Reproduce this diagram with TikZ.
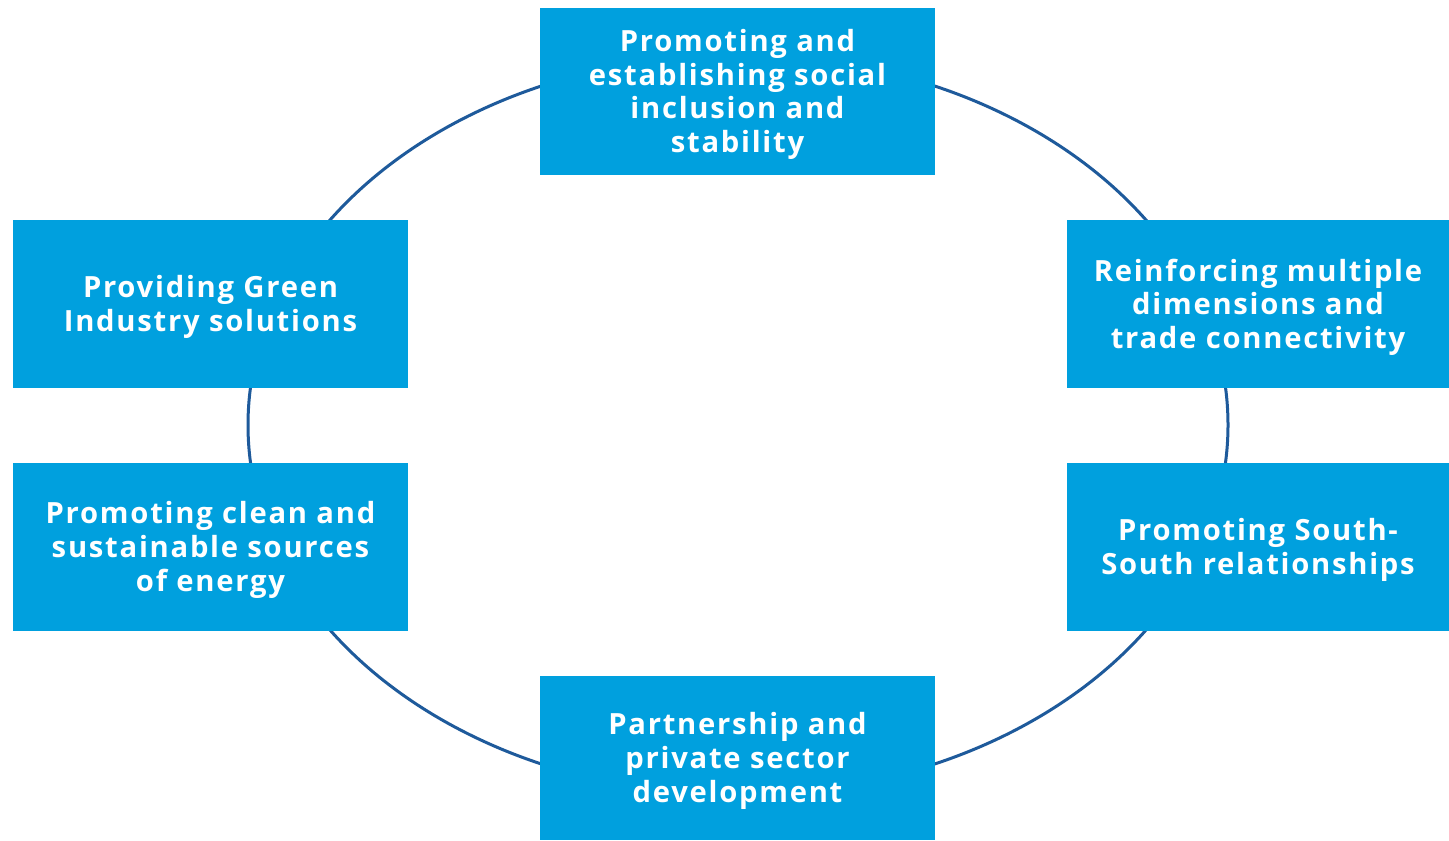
\documentclass[tikz,border=0pt]{standalone}
\usepackage{fontspec}
\setmainfont{Open Sans}[LetterSpace=6]
\definecolor{boxblue}{RGB}{0,160,222}
\definecolor{ringblue}{RGB}{30,90,155}
\begin{document}
\begin{tikzpicture}[x=0.5pt,y=-0.5pt,
  pbox/.style={fill=boxblue,draw=none,inner sep=0pt,text=white,
    font=\fontsize{14.6}{16.8}\selectfont\bfseries,align=center},
  ptext/.style={inner sep=0pt,text=white,yshift=-1.5pt,
    font=\fontsize{14.6}{16.8}\selectfont\bfseries,align=center},
  ring/.style={draw=ringblue,line width=1.5pt}]
\useasboundingbox (0,0) rectangle (1449,840);
\fill[white] (0,0) rectangle (1449,840);
\draw[ring] (738,425) ellipse [x radius=490, y radius=370];
\node[pbox,minimum width=197.5pt,minimum height=83.5pt] (top) at (737.5,91.5) {};
\node[ptext] (toptext) at (top.center) {Promoting and\\establishing social\\inclusion and\\stability};
\node[pbox,minimum width=197.5pt,minimum height=84pt] (lu) at (210.5,304) {};
\node[ptext] (lutext) at (lu.center) {Providing Green\\Industry solutions};
\node[pbox,minimum width=197.5pt,minimum height=84pt] (ll) at (210.5,547) {};
\node[ptext] (lltext) at (ll.center) {Promoting clean and\\sustainable sources\\of energy};
\node[pbox,minimum width=191pt,minimum height=84pt] (ru) at (1258,304) {};
\node[ptext] (rutext) at (ru.center) {Reinforcing multiple\\dimensions and\\trade connectivity};
\node[pbox,minimum width=191pt,minimum height=84pt] (rl) at (1258,547) {};
\node[ptext] (rltext) at (rl.center) {Promoting South-\\South relationships};
\node[pbox,minimum width=197.5pt,minimum height=82pt] (bot) at (737.5,758) {};
\node[ptext] (bottext) at (bot.center) {Partnership and\\private sector\\development};
\end{tikzpicture}
\end{document}
